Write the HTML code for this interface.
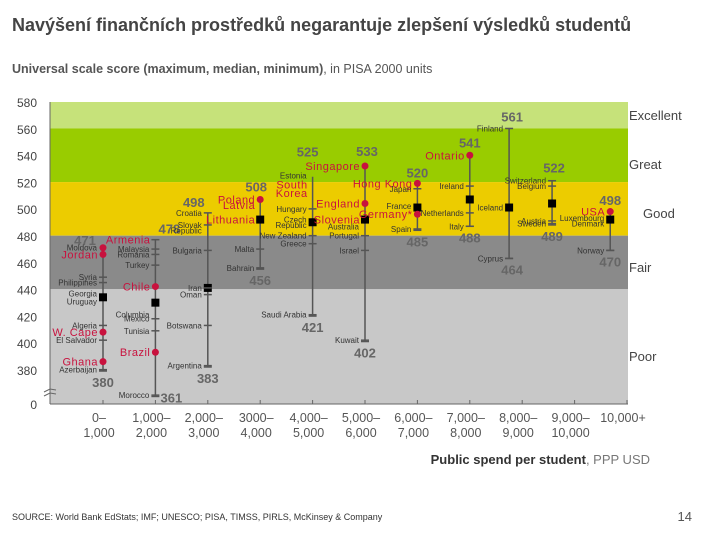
<!DOCTYPE html>
<html><head><meta charset="utf-8"><style>
html,body{margin:0;padding:0;background:#fff;}
body{width:706px;height:529px;overflow:hidden;font-family:"Liberation Sans",sans-serif;}
svg text{font-family:"Liberation Sans Narrow","Liberation Sans",sans-serif;}
</style></head><body>
<svg id="chart" width="706" height="529" viewBox="0 0 706 529" xmlns="http://www.w3.org/2000/svg">
<text x="12" y="31" font-size="18" font-weight="bold" fill="#444" style="font-family:'Liberation Sans',sans-serif">Navýšení finančních prostředků negarantuje zlepšení výsledků studentů</text>
<text x="12" y="73" font-size="12.5" fill="#555" style="font-family:'Liberation Sans',sans-serif"><tspan font-weight="bold">Universal scale score (maximum, median, minimum)</tspan>, in PISA 2000 units</text>
<g id="plot"></g>
<text x="650" y="464" text-anchor="end" font-size="13" fill="#333" style="font-family:'Liberation Sans',sans-serif"><tspan font-weight="bold">Public spend per student</tspan><tspan fill="#777">, PPP USD</tspan></text>
<text x="12" y="520" font-size="9" fill="#333" style="font-family:'Liberation Sans',sans-serif">SOURCE: World Bank EdStats; IMF; UNESCO; PISA, TIMSS, PIRLS, McKinsey &amp; Company</text>
<text x="692" y="521" text-anchor="end" font-size="13" fill="#555" style="font-family:'Liberation Sans',sans-serif">14</text>
</svg>
<script>
const bandNames = ['Excellent','Great','Good','Fair','Poor'];
const bandTops = [580,561,521,481,441];
const bandBottoms = [561,521,481,441,365];
const yTicks = [580,560,540,520,500,480,460,440,420,400,380];
const xTickLabels1 = ['0–','1,000–','2,000–','3000–','4,000–','5,000–','6,000–','7,000–','8,000–','9,000–','10,000+'];
const xTickLabels2 = ['1,000','2,000','3,000','4,000','5,000','6,000','7,000','8,000','9,000','10,000',''];
const spend = [500,1500,2500,3500,4500,5500,6500,7500,8250,9070,10180];
const maxVals = [471,478,498,508,525,533,520,541,561,522,498];
const minVals = [380,361,383,456,421,402,485,488,464,489,470];
const medianVals = [435,431,442,493,491,493,502,508,502,505,493];
// [column, value, name, highlight, marker]
const countries = [
 [0,472,'Moldova',0,'dot'],[0,467,'Jordan',1,'dot'],[0,450,'Syria',0,'tick'],[0,446,'Philippines',0,'tick'],
 [0,438,'Georgia',0,'none'],[0,432,'Uruguay',0,'none'],[0,414,'Algeria',0,'tick'],[0,409,'W. Cape',1,'dot'],
 [0,403,'El Salvador',0,'tick'],[0,387,'Ghana',1,'dot'],[0,381,'Azerbaijan',0,'tick'],
 [1,478,'Armenia',1,'tick'],[1,471,'Malaysia',0,'tick'],[1,467,'Romania',0,'tick'],[1,459,'Turkey',0,'tick'],
 [1,443,'Chile',1,'dot'],[1,422,'Columbia',0,'none'],[1,419,'Mexico',0,'tick'],[1,410,'Tunisia',0,'tick'],
 [1,394,'Brazil',1,'dot'],[1,362,'Morocco',0,'tick'],
 [2,498,'Croatia',0,'tick'],[2,489,'Slovak',0,'tick'],[2,485,'Republic',0,'none'],[2,470,'Bulgaria',0,'tick'],
 [2,442,'Iran',0,'tick'],[2,437,'Oman',0,'tick'],[2,414,'Botswana',0,'tick'],[2,384,'Argentina',0,'tick'],
 [3,508,'Poland',1,'dot'],[3,504,'Latvia',1,'none'],[3,493,'Lithuania',1,'none'],[3,471,'Malta',0,'tick'],[3,457,'Bahrain',0,'tick'],
 [4,526,'Estonia',0,'none'],[4,519,'South',1,'none'],[4,513,'Korea',1,'none'],[4,501,'Hungary',0,'tick'],
 [4,493,'Czech',0,'none'],[4,489,'Republic',0,'none'],[4,481,'New Zealand',0,'tick'],[4,475,'Greece',0,'tick'],[4,422,'Saudi Arabia',0,'tick'],
 [5,533,'Singapore',1,'dot'],[5,505,'England',1,'dot'],[5,493,'Slovenia',1,'none'],[5,488,'Australia',0,'none'],
 [5,481,'Portugal',0,'tick'],[5,470,'Israel',0,'tick'],[5,403,'Kuwait',0,'tick'],
 [6,520,'Hong Kong',1,'dot'],[6,516,'Japan',0,'tick'],[6,503,'France',0,'none'],[6,497,'Germany*',1,'dot'],[6,486,'Spain',0,'tick'],
 [7,541,'Ontario',1,'dot'],[7,518,'Ireland',0,'tick'],[7,498,'Netherlands',0,'tick'],[7,488,'Italy',0,'tick'],
 [8,561,'Finland',0,'tick'],[8,502,'Iceland',0,'none'],[8,464,'Cyprus',0,'tick'],
 [9,522,'Switzerland',0,'tick'],[9,518,'Belgium',0,'tick'],[9,492,'Austria',0,'tick'],[9,490,'Sweden',0,'tick'],
 [10,499,'USA',1,'dot'],[10,494,'Luxembourg',0,'none'],[10,490,'Denmark',0,'none'],[10,470,'Norway',0,'tick']
];
const NS='http://www.w3.org/2000/svg';
const plot=document.getElementById('plot');
const L=50,R=628,B=404;
function y(v){return 103+(580-v)*1.34;}
function x(s){return 103+(s-500)/1000*52.4;}
function mk(tag,a,txt){const e=document.createElementNS(NS,tag);for(const k in a)e.setAttribute(k,a[k]);if(txt!==undefined)e.textContent=txt;plot.appendChild(e);return e;}
const bandColors=['#c6e27a','#99cc00','#eccc00','#8a8a8a','#c8c8c8'];
const bandLabelX=[629,629,643,629,629];
const bandLabelY=[120,169,218,272,361];
bandNames.forEach((n,i)=>{
 const yt=i===0?102:y(bandTops[i]);const yb=i===4?B:y(bandBottoms[i]);
 const r=mk('rect',{x:L,y:yt,width:R-L,height:yb-yt,fill:bandColors[i]});
 
 
 const t=mk('text',{x:bandLabelX[i],y:bandLabelY[i],'font-size':13,fill:'#444',style:"font-family:'Liberation Sans',sans-serif"},n);
 
 
});
mk('line',{x1:L,y1:102,x2:L,y2:B,stroke:'#666','stroke-width':1});
mk('line',{x1:L,y1:B,x2:R,y2:B,stroke:'#666','stroke-width':1});
mk('path',{d:'M44 392 l6 -3 l6 1 M44 396 l6 -3 l6 1',stroke:'#666',fill:'none','stroke-width':1});
yTicks.forEach(v=>{
 const t=mk('text',{x:37,y:y(v)+4,'text-anchor':'end','font-size':12,fill:'#444',style:"font-family:'Liberation Sans',sans-serif"},String(v));
 
 
});
const z=mk('text',{x:37,y:409,'text-anchor':'end','font-size':12,fill:'#444',style:"font-family:'Liberation Sans',sans-serif"},'0');


xTickLabels1.forEach((l,i)=>{
 const cx=103+i*52.4;
 mk('line',{x1:cx,y1:B-4,x2:cx,y2:B,stroke:'#666'});
 const t=mk('text',{x:cx-4,y:422,'text-anchor':'middle','font-size':12.5,fill:'#555',style:"font-family:'Liberation Sans',sans-serif"},l);
 
 
 if(xTickLabels2[i]){const t2=mk('text',{x:cx-4,y:437,'text-anchor':'middle','font-size':12.5,fill:'#555',style:"font-family:'Liberation Sans',sans-serif"},xTickLabels2[i]);
 
 }
});
const maxDx=[-18,14,-14,-4,-5,2,0,0,3,2,0];
const maxDy=[-4,-6,-6,-8,-20,-10,-6,-8,-7,-8,-8];
const minDx=[0,16,0,0,0,0,0,0,3,0,0];
const RED='#c8123e';
maxVals.forEach((mx,i)=>{
 const cx=x(spend[i]);
 const ln=mk('line',{x1:cx,y1:y(mx),x2:cx,y2:y(minVals[i]),stroke:'#555','stroke-width':1.5});
 
 
 mk('line',{x1:cx-4,y1:y(minVals[i]),x2:cx+4,y2:y(minVals[i]),stroke:'#555','stroke-width':1.5});
 const sq=mk('rect',{x:cx-4,y:y(medianVals[i])-4,width:8,height:8,fill:'#000'});
 
 
 const a=mk('text',{x:cx+maxDx[i],y:y(mx)+maxDy[i],'text-anchor':'middle','font-size':13,'font-weight':'bold',fill:'#666'},String(mx));
 
 
 const b=mk('text',{x:cx+minDx[i],y:y(minVals[i])+(i==1?6:16),'text-anchor':'middle','font-size':13,'font-weight':'bold',fill:'#666'},String(minVals[i]));
 
 
});
countries.forEach(c=>{
 const [col,v,name,hl,m]=c;const cx=x(spend[col]);const yy=y(v);
 if(m==='dot'){const d=mk('circle',{cx:cx,cy:yy,r:3.5,fill:RED});
  
  }
 if(m==='tick'){mk('line',{x1:cx-4,y1:yy,x2:cx+4,y2:yy,stroke:'#555','stroke-width':1.5});}
 const t=mk('text',{x:cx-(hl?5:6),y:yy+(hl?4:3),'text-anchor':'end','font-size':hl?11:8,fill:hl?RED:'#333','letter-spacing':hl?'0.5':'0'},name);
 
 
});
</script>
</body></html>
